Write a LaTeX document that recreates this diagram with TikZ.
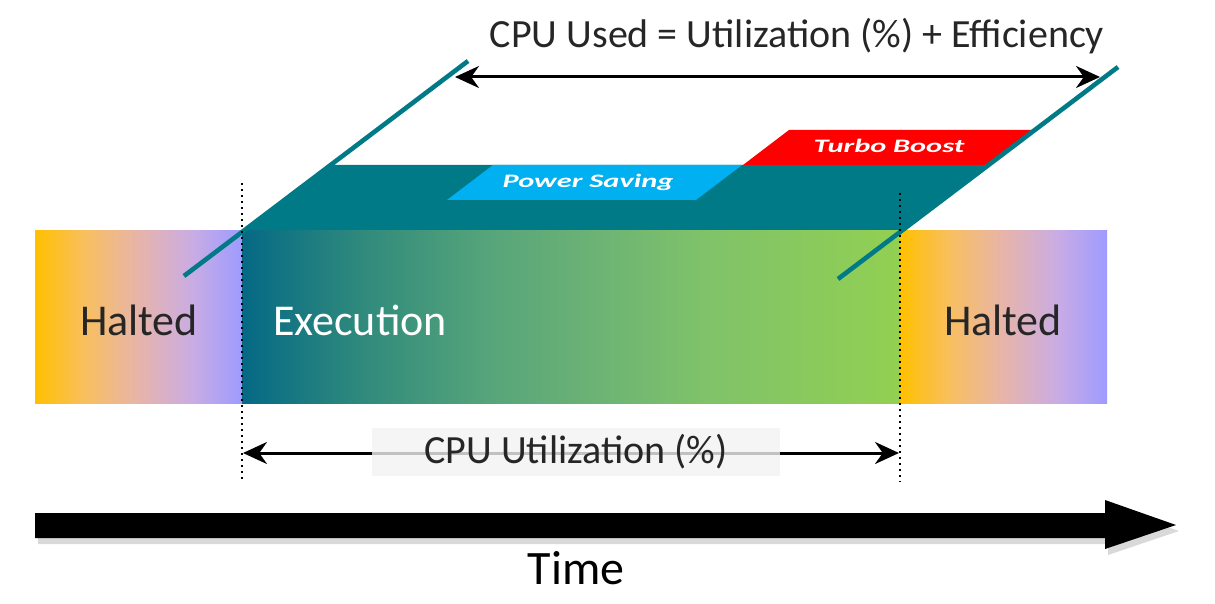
\documentclass[tikz,border=0pt]{standalone}
\usepackage{fontspec}
\setmainfont{Carlito}
\usetikzlibrary{arrows.meta,shadows}
\definecolor{tealbar}{HTML}{007A87}
\definecolor{saveblue}{HTML}{00B0F0}
\definecolor{labelgray}{HTML}{262626}
\pgfdeclarehorizontalshading{haltshade}{100bp}{color(0bp)=(rgb,255:red,255;green,192;blue,0);
  color(25bp)=(rgb,255:red,255;green,192;blue,0); color(37bp)=(rgb,255:red,248;green,191;blue,95);
  color(50bp)=(rgb,255:red,231;green,180;blue,170); color(63bp)=(rgb,255:red,201;green,172;blue,228);
  color(75bp)=(rgb,255:red,158;green,155;blue,255); color(100bp)=(rgb,255:red,158;green,155;blue,255)}
\pgfdeclarehorizontalshading{execshade}{100bp}{color(0bp)=(rgb,255:red,5;green,105;blue,133);
  color(25bp)=(rgb,255:red,5;green,105;blue,133); color(34bp)=(rgb,255:red,47;green,138;blue,124);
  color(44bp)=(rgb,255:red,87;green,165;blue,122); color(51bp)=(rgb,255:red,106;green,177;blue,118);
  color(60bp)=(rgb,255:red,127;green,194;blue,106); color(75bp)=(rgb,255:red,146;green,208;blue,82);
  color(100bp)=(rgb,255:red,146;green,208;blue,82)}
\tikzset{
  span/.style={{Stealth[length=12pt,width=11pt]}-{Stealth[length=12pt,width=11pt]},line width=1.5pt},
  edge/.style={tealbar,line width=2.3pt},
  mark line/.style={dotted,line width=1pt},
  tag/.style={white,font=\fontsize{9.5}{11}\selectfont\bfseries\itshape}
}
\begin{document}
\begin{tikzpicture}[x=0.5pt,y=-0.5pt]
    \useasboundingbox (0,0) rectangle (1215,604);
    \fill[tealbar] (242,231) -- (328,165) -- (985,165) -- (900,231) -- cycle;
    \fill[saveblue] (447,200) -- (493,165) -- (742,165) -- (696,200) -- cycle;
    \fill[red] (743,165) -- (789,130) -- (1032,130) -- (986,165) -- cycle;
    \shade[shading=haltshade] (35,231) rectangle (242,403);
    \shade[shading=execshade] (242,231) rectangle (900,403);
    \shade[shading=haltshade] (900,231) rectangle (1107,403);
    \draw[edge] (184,276) -- (468,61);
    \draw[edge] (838,279) -- (1118,67);
    \node[tag] (save) at (588,182) {\scalebox{1.6}[1]{Power Saving}};
    \node[tag] (turbo) at (889,146) {\scalebox{1.6}[1]{Turbo Boost}};
    \node[labelgray,font=\fontsize{22}{26}\selectfont] (haltA) at (139,320) {Halted};
    \node[white,font=\fontsize{22}{26}\selectfont] (exec) at (360,320) {Execution};
    \node[labelgray,font=\fontsize{22}{26}\selectfont] (haltB) at (1003,320) {Halted};
    \node[labelgray,font=\fontsize{20}{24}\selectfont] (used) at (797,36) {CPU Used = Utilization (\%) + Efficiency};
    \coordinate (usedA) at (455,77);
    \coordinate (usedB) at (1100,77);
    \draw[span] (usedA) -- (usedB);
    \coordinate (utilA) at (243,453);
    \coordinate (utilB) at (899,453);
    \draw[span] (utilA) -- (utilB);
    \node[fill=white!95!black,fill opacity=0.8,text opacity=1,text=labelgray,minimum width=204pt,minimum height=23.5pt,
      font=\fontsize{20}{24}\selectfont] (util) at (576,452) {CPU Utilization (\%)};
    \draw[mark line] (242,183) -- (242,480);
    \draw[mark line] (900,193) -- (900,482);
    \fill[black,drop shadow={shadow xshift=1.5pt,shadow yshift=-3pt,opacity=0.3}]
      (35,513) -- (1105,513) -- (1105,500) -- (1176,525) -- (1105,549) -- (1105,538) -- (35,538) -- cycle;
    \node[black,font=\fontsize{24}{28}\selectfont] (time) at (576,568) {Time};
\end{tikzpicture}
\end{document}
